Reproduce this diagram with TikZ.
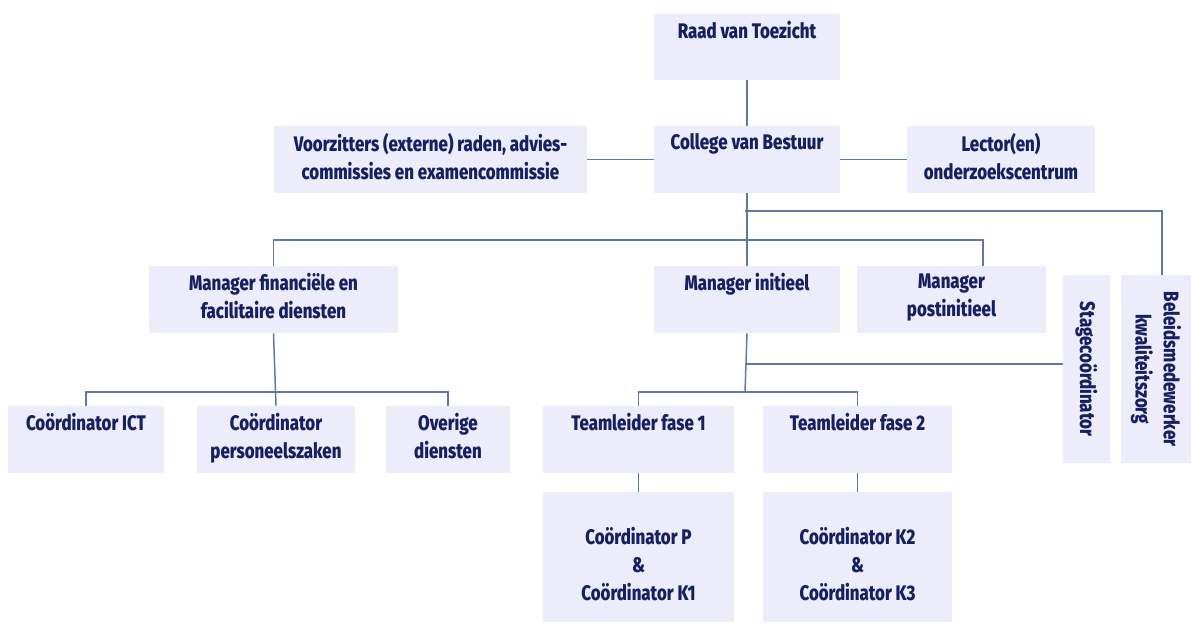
\documentclass[tikz,border=0pt]{standalone}
\usepackage{fontspec}
\newfontfamily\orgfont{Fira Sans}[FakeStretch=0.8, BoldFont={Fira Sans ExtraBold}]
\usetikzlibrary{calc}
\definecolor{boxfill}{HTML}{ECECFA}
\definecolor{txtcol}{HTML}{161F60}
\definecolor{linecol}{HTML}{5F78A8}
\tikzset{
  orgrect/.style={rectangle, fill=boxfill, draw=none, inner sep=0pt},
  txt/.style={text=txtcol, inner sep=0pt, align=center, font=\orgfont\bfseries\fontsize{12}{16}\selectfont},
  conn/.style={draw=linecol, line width=0.85pt}
}
\newcommand{\orgbox}[5]{%
  \node[orgrect, minimum width={(#4-#2)*0.02cm}, minimum height={(#5-#3)*0.02cm}] (#1) at ({(#2+#4)/2},{(#3+#5)/2}) {};}
\begin{document}
\begin{tikzpicture}[x=0.02cm, y=-0.02cm]
\useasboundingbox (0,0) rectangle (1192,623);
% boxes
\orgbox{raad}{654}{14}{840}{80}
\orgbox{college}{654}{126}{840}{193}
\orgbox{voorz}{274}{126}{587}{193}
\orgbox{lector}{907}{126}{1095}{193}
\orgbox{finmgr}{149}{266}{398}{333}
\orgbox{initieel}{654}{266}{840}{333}
\orgbox{postini}{857}{266}{1046}{333}
\orgbox{stage}{1063}{275}{1110}{463}
\orgbox{beleids}{1121}{275}{1191}{463}
\orgbox{ict}{8}{406}{164}{473}
\orgbox{pers}{197}{406}{355}{473}
\orgbox{overig}{386}{406}{510}{473}
\orgbox{team1}{543}{406}{734}{473}
\orgbox{team2}{763}{406}{952}{473}
\orgbox{coordp}{543}{492}{734}{622}
\orgbox{coordk}{763}{492}{952}{622}
% texts
\node[txt, anchor=north] (raad-t) at ([yshift=-0.15cm]raad.north) {Raad van Toezicht};
\node[txt, anchor=north] (college-t) at ([yshift=-0.15cm]college.north) {College van Bestuur};
\node[txt, anchor=north] (voorz-t) at ([yshift=-0.15cm]voorz.north) {Voorzitters (externe) raden, advies-\\commissies en examencommissie};
\node[txt, anchor=north] (lector-t) at ([yshift=-0.15cm]lector.north) {Lector(en)\\onderzoekscentrum};
\node[txt, anchor=north] (finmgr-t) at ([yshift=-0.15cm]finmgr.north) {Manager financiële en\\facilitaire diensten};
\node[txt, anchor=north] (initieel-t) at ([yshift=-0.15cm]initieel.north) {Manager initieel};
\node[txt, anchor=north] (postini-t) at ([yshift=-0.15cm]postini.north) {Manager\\postinitieel};
\node[txt, anchor=north] (ict-t) at ([yshift=-0.15cm]ict.north) {Coördinator ICT};
\node[txt, anchor=north] (pers-t) at ([yshift=-0.15cm]pers.north) {Coördinator\\personeelszaken};
\node[txt, anchor=north] (overig-t) at ([yshift=-0.15cm]overig.north) {Overige\\diensten};
\node[txt, anchor=north] (team1-t) at ([yshift=-0.15cm]team1.north) {Teamleider fase 1};
\node[txt, anchor=north] (team2-t) at ([yshift=-0.15cm]team2.north) {Teamleider fase 2};
\node[txt] (coordp-t) at ([yshift=-0.14cm]coordp.center) {Coördinator P\\\&\\Coördinator K1};
\node[txt] (coordk-t) at ([yshift=-0.14cm]coordk.center) {Coördinator K2\\\&\\Coördinator K3};
\node[txt, rotate=-90] (stage-t) at (stage.center) {Stagecoördinator};
\node[txt, rotate=-90] (beleids-t) at (beleids.center) {Beleidsmedewerker\\kwaliteitszorg};
% junction coordinates
\coordinate (j1) at (745,240);
\coordinate (j2) at (983,240);
\coordinate (j3) at (745,211);
\coordinate (j4) at (1162,211);
\coordinate (j5) at (745,364);
\coordinate (j6) at (745,392);
\coordinate (j7) at (274,392);
% connectors
\draw[conn] (raad.south) -- (college.north);
\draw[conn] (voorz.east) -- (college.west);
\draw[conn] (college.east) -- (lector.west);
\draw[conn] (college.south) -- (initieel.north);
\draw[conn] (finmgr.north) |- (j1) -- (j2) -- (j2 |- postini.north);
\draw[conn] (j3) -- (j4) -- (j4 |- beleids.north);
\draw[conn] (initieel.south) -- (j6);
\draw[conn] (j5) -- (j5 -| stage.west);
\draw[conn] (team1.north) |- (j6) -| (team2.north);
\draw[conn] (team1.south) -- (coordp.north);
\draw[conn] (team2.south) -- (coordk.north);
\draw[conn] (finmgr.south) -- (pers.north);
\draw[conn] (ict.north) |- (j7) -| (overig.north);
\end{tikzpicture}
\end{document}
